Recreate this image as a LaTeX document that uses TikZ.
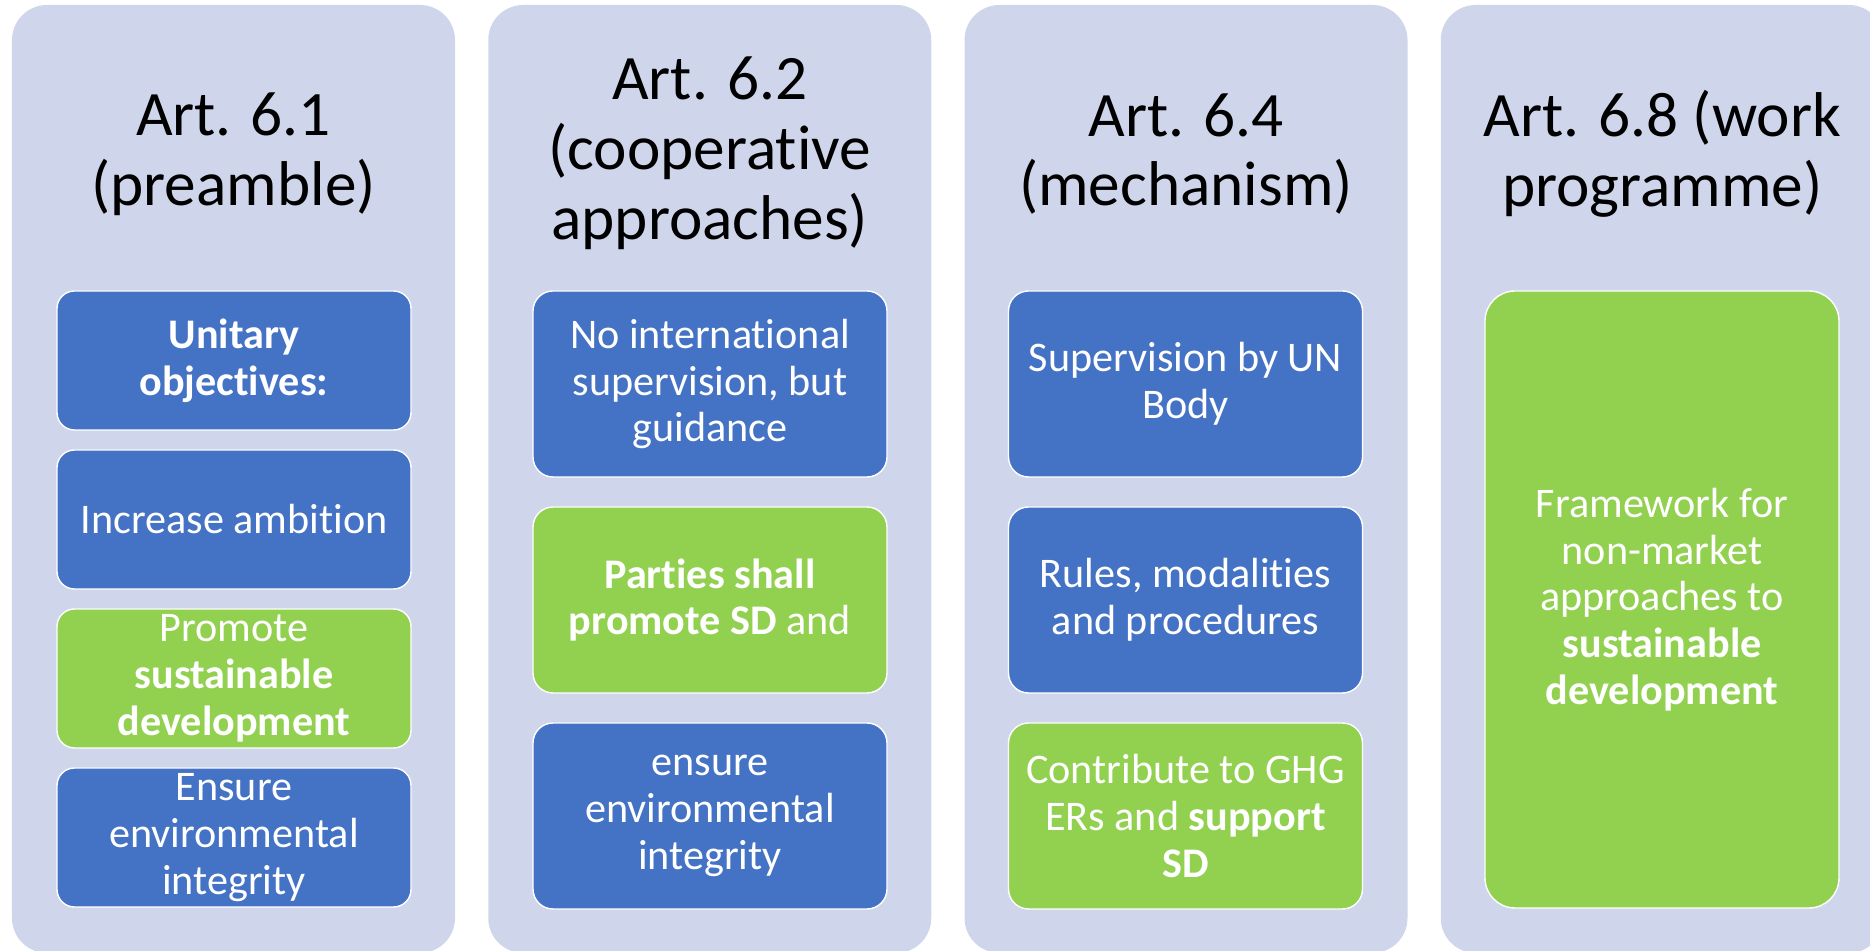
\documentclass[tikz,border=0pt]{standalone}
\usepackage{fontspec}
\setmainfont{Carlito}[RawFeature={-liga;-clig;-calt;-dlig}]
\usepackage{xcolor}
\usepackage{tikz}
\usetikzlibrary{shapes}
\usetikzlibrary{positioning}
\definecolor{artlav}{HTML}{CFD5EA}
\definecolor{artblue}{HTML}{4472C4}
\definecolor{artgreen}{HTML}{92D050}
\tikzstyle{column} = [rectangle, fill=artlav, rounded corners=0.7cm,
    minimum width=8.86cm, minimum height=18.96cm, inner sep=0pt]
\tikzstyle{heading} = [align=center, text=black, inner sep=0pt,
    font=\fontsize{36}{39.7}\selectfont]
\tikzstyle{cell} = [rectangle, draw=white, line width=0.8pt, text=white, align=center,
    inner sep=0pt, outer sep=0pt, minimum width=7.08cm, font=\fontsize{24}{26.6}\selectfont]
\tikzstyle{bluecell} = [cell, fill=artblue]
\tikzstyle{greencell} = [cell, fill=artgreen]
\tikzstyle{row4} = [minimum height=2.78cm, rounded corners=0.35cm]
\tikzstyle{row3} = [minimum height=3.72cm, rounded corners=0.4cm]

\begin{document}
\begin{tikzpicture}[node distance = 0.4cm, auto]
    \useasboundingbox (0,0) rectangle (37.4,19.02);
    % Place columns
    \node [column] (col1) at (4.67,9.44) {};
    \node [column] (col2) at (14.195,9.44) {};
    \node [column] (col3) at (23.72,9.44) {};
    \node [column] (col4) at (33.245,9.44) {};

    \node [heading] (art1) at (4.67,15.94) {Art. 6.1\\(preamble)};
    \node [heading] (art2) at (14.195,15.95) {Art. 6.2\\(cooperative\\approaches)};
    \node [heading] (art4) at (23.72,15.94) {Art. 6.4\\(mechanism)};
    \node [heading] (art8) at (33.245,15.94) {Art. 6.8 (work\\programme)};

    % Art. 6.1
    \node [bluecell, row4, anchor=north] (unitary) at (4.68,13.2) {\textbf{Unitary}\\\textbf{objectives:}};
    \node [bluecell, row4, below=of unitary] (ambition) {Increase ambition};
    \node [greencell, row4, below=of ambition] (promote) {Promote\\\textbf{sustainable}\\\textbf{development}};
    \node [bluecell, row4, below=of promote] (integrity) {Ensure\\environmental\\integrity};

    % Art. 6.2
    \node [bluecell, row3, anchor=north] (guidance) at (14.2,13.2) {No international\\supervision, but\\guidance};
    \node [greencell, row3, below=0.6cm of guidance] (parties) {\textbf{Parties shall}\\\textbf{promote SD} and};
    \node [bluecell, row3, below=0.6cm of parties] (ensure) {ensure\\environmental\\integrity};

    % Art. 6.4
    \node [bluecell, row3, anchor=north] (unbody) at (23.71,13.2) {Supervision by UN\\Body};
    \node [bluecell, row3, below=0.6cm of unbody] (rules) {Rules, modalities\\and procedures};
    \node [greencell, row3, below=0.6cm of rules] (ghg) {Contribute to GHG\\ERs and \textbf{support}\\\textbf{SD}};

    % Art. 6.8
    \node [greencell, minimum height=12.34cm, rounded corners=0.6cm, anchor=north] (nonmarket) at (33.24,13.2)
        {Framework for\\non-market\\approaches to\\\textbf{sustainable}\\\textbf{development}};
\end{tikzpicture}
\end{document}
